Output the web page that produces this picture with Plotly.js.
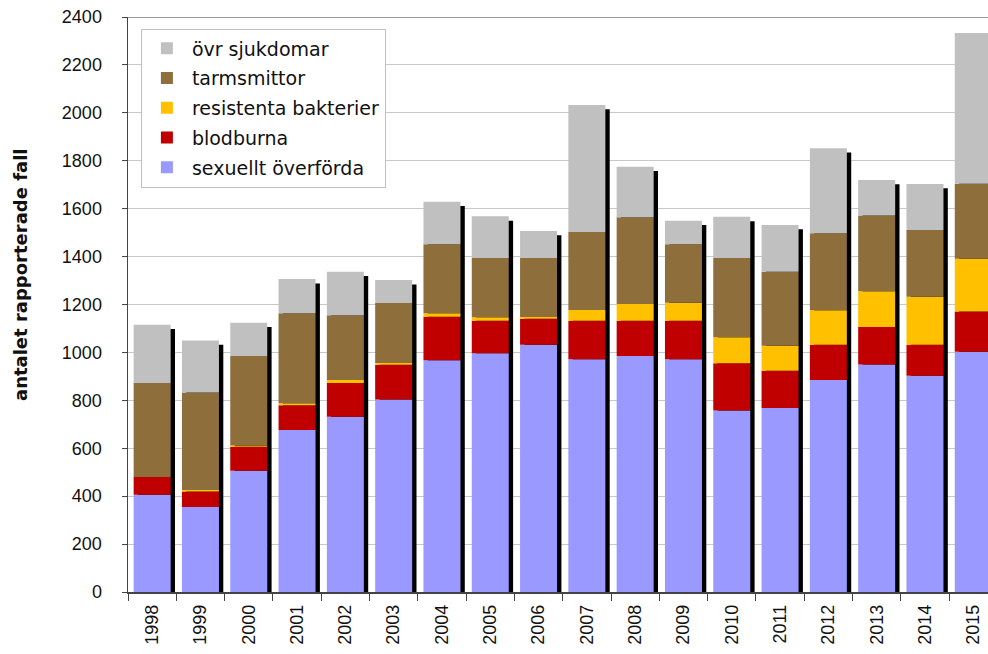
<!DOCTYPE html>
<html>
<head>
<meta charset="utf-8">
<script src="https://cdn.plot.ly/plotly-3.0.1.min.js"></script>
<style>html,body{margin:0;padding:0;background:#fff;}</style>
</head>
<body>
<div id="chart" style="width:988px;height:654px;"></div>
<script>
const years = ["1998","1999","2000","2001","2002","2003","2004","2005","2006","2007","2008","2009","2010","2011","2012","2013","2014","2015"];
const sexuellt   = [406,355,506,676,732,804,967,997,1032,972,985,972,758,768,885,950,903,1003];
const blodburna  = [74,64,100,104,140,145,182,135,109,160,147,160,197,156,147,156,129,168];
const resistenta = [0,7,5,8,13,7,15,15,7,45,70,75,108,104,144,149,200,220];
const tarmsmittor= [392,407,374,375,270,250,287,247,246,326,362,244,331,309,321,317,279,313];
const ovrigt     = [244,217,139,143,182,96,178,174,113,530,211,99,172,195,355,148,192,629];

const seriesNames = ["sexuellt överförda","blodburna","resistenta bakterier","tarmsmittor","övr sjukdomar"];
const seriesData = [sexuellt, blodburna, resistenta, tarmsmittor, ovrigt];
const seriesColors = ["#9999FF","#C00000","#FFC000","#8E6F3B","#C0C0C0"];

const BW = 0.766, OFF = -0.383, SHX = 0.09, SHY = 18;

const totals = years.map((_, i) => seriesData.reduce((s, arr) => s + arr[i], 0));

const traces = [];
// shadow behind each stacked bar
traces.push({
  type: "bar", x: years, y: totals.map(t => t - SHY), base: 0,
  width: BW, offset: OFF + SHX,
  marker: {color: "#000000", line: {width: 0}},
  showlegend: false, hoverinfo: "skip"
});
let cum = years.map(() => 0);
seriesData.forEach((arr, k) => {
  const base = cum.slice();
  traces.push({
    type: "bar", name: seriesNames[k], x: years, y: arr, base: base,
    width: BW, offset: OFF,
    legendgroup: "g" + k, legendrank: 100 - k,
    marker: {color: seriesColors[k], line: {width: 0}}
  });
  cum = cum.map((c, i) => c + arr[i]);
});

const layout = {
  width: 988, height: 654,
  margin: {l: 128, r: 0, t: 17, b: 62},
  paper_bgcolor: "#ffffff", plot_bgcolor: "#ffffff",
  barmode: "overlay",
  showlegend: true,
  legend: {
    x: 0.015, y: 0.98, xanchor: "left", yanchor: "top",
    bgcolor: "#ffffff", bordercolor: "#c0c0c0", borderwidth: 1,
    traceorder: "grouped", tracegroupgap: 2,
    font: {family: "DejaVu Sans", size: 19, color: "#111"},
    itemwidth: 40
  },
  xaxis: {
    type: "category", range: [-0.5, 17.305],
    tickson: "boundaries", ticks: "outside", ticklen: 7, tickcolor: "#444",
    tickangle: -90, ticklabelstandoff: 4,
    tickfont: {family: "Liberation Sans, Arial", size: 18, color: "#111"},
    showline: true, linecolor: "#444", linewidth: 1.5,
    showgrid: false, zeroline: false, fixedrange: true
  },
  yaxis: {
    range: [0, 2400], tickvals: [0,200,400,600,800,1000,1200,1400,1600,1800,2000,2200,2400],
    ticks: "outside", ticklen: 5, tickcolor: "#444", ticklabelstandoff: 16,
    tickfont: {family: "Liberation Sans, Arial", size: 18, color: "#111"},
    showline: true, linecolor: "#444", linewidth: 1.5,
    showgrid: true, gridcolor: "#c8c8c8", gridwidth: 1,
    zeroline: false, fixedrange: true
  },
  annotations: [{
    text: "antalet rapporterade fall", textangle: -90,
    xref: "paper", yref: "paper", x: -0.1256, y: 0.553,
    xanchor: "center", yanchor: "middle", showarrow: false,
    font: {family: "DejaVu Sans", size: 18, color: "#111", weight: "bold"}
  }],
  shapes: [{type: "line", xref: "paper", yref: "y", x0: 0, x1: 1, y0: 2400, y1: 2400,
            line: {color: "#999999", width: 2}}]
};

Plotly.newPlot("chart", traces, layout, {displayModeBar: false, staticPlot: true});
</script>
</body>
</html>
